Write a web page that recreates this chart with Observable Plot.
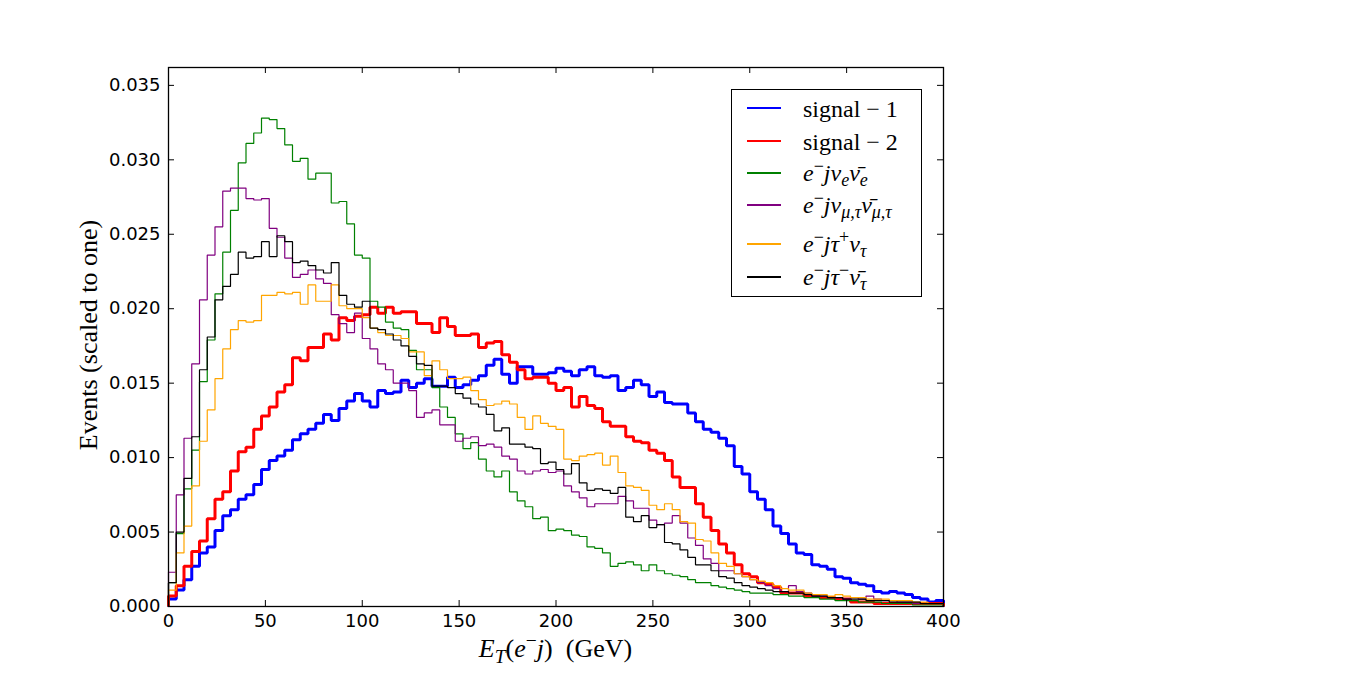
<!DOCTYPE html>
<html>
<head>
<meta charset="utf-8">
<script src="https://cdn.jsdelivr.net/npm/d3@7"></script>
<script src="https://cdn.jsdelivr.net/npm/@observablehq/plot@0.6"></script>
<style>
  html, body { margin: 0; padding: 0; background: #fff; }
  #wrap { position: relative; width: 1349px; height: 674px; background: #fff; overflow: hidden; }
  #wrap svg { position: absolute; left: 0; top: 0; }
  .serif { font-family: "Liberation Serif", "DejaVu Serif", serif; color: #000; }
  .serif sub, .serif sup { font-size: 75%; line-height: 0; position: relative; vertical-align: baseline; }
  .serif sup { top: -0.5em; }
  .serif sub { top: 0.3em; }
  #xlabel { position: absolute; left: 168px; width: 775px; top: 636px; text-align: center; font-size: 26px; line-height: 26px; white-space: nowrap; }
  #ylabel { position: absolute; left: -111px; width: 400px; top: 322px; text-align: center; font-size: 26px; line-height: 26px; transform: rotate(-90deg); transform-origin: 200px 13px; white-space: nowrap; }
  #legend { position: absolute; left: 731px; top: 89px; width: 189px; height: 206px; border: 1.3px solid #000; background: #fff; }
  .lrow { position: absolute; left: 0; width: 189px; height: 0; }
  .lline { position: absolute; left: 15px; width: 34px; height: 0; border-top: 2px solid; }
  .ltext { position: absolute; left: 71px; font-size: 24px; line-height: 24px; white-space: nowrap; }
</style>
</head>
<body>
<div id="wrap">
  <div id="xlabel" class="serif"><i>E</i><sub><i>T</i></sub>(<i>e</i><sup>−</sup><i>j</i>)&nbsp;&nbsp;(GeV)</div>
  <div id="ylabel" class="serif">Events (scaled to one)</div>
  <div id="legend" class="serif"></div>
</div>
<script>
// ---- data ----
const binWidth = 4; // GeV
const xTicks = [0, 50, 100, 150, 200, 250, 300, 350, 400];
const yTicks = [0, 0.005, 0.010, 0.015, 0.020, 0.025, 0.030, 0.035];

const signal1 = [
  0.0005, 0.0011, 0.0018, 0.0027, 0.0036, 0.0040, 0.0051, 0.0061, 0.0065, 0.0072,
  0.0075, 0.0082, 0.0092, 0.0098, 0.0101, 0.0105, 0.0112, 0.0116, 0.0119, 0.0123,
  0.0129, 0.0125, 0.0133, 0.0138, 0.0143, 0.0138, 0.0134, 0.0145, 0.0143, 0.0144,
  0.0152, 0.0147, 0.0150, 0.0153, 0.0148, 0.0148, 0.0154, 0.0147, 0.0149, 0.0152,
  0.0155, 0.0162, 0.0166, 0.0156, 0.0150, 0.0161, 0.0161, 0.0156, 0.0156, 0.0157,
  0.0160, 0.0158, 0.0155, 0.0159, 0.0161, 0.0155, 0.0154, 0.0155, 0.0145, 0.0147,
  0.0152, 0.0149, 0.0141, 0.0144, 0.0137, 0.0136, 0.0136, 0.0130, 0.0124, 0.0119,
  0.0117, 0.0113, 0.0108, 0.0094, 0.0089, 0.0077, 0.0072, 0.0065, 0.0054, 0.0049,
  0.0042, 0.0036, 0.0035, 0.0028, 0.0027, 0.0025, 0.0020, 0.0019, 0.0016, 0.0015,
  0.0014, 0.0010, 0.0009, 0.0010, 0.0009, 0.0008, 0.0006, 0.0005, 0.0003, 0.0004
];
const signal2 = [
  0.0007, 0.0014, 0.0027, 0.0037, 0.0044, 0.0059, 0.0072, 0.0077, 0.0091, 0.0104,
  0.0107, 0.0119, 0.0128, 0.0134, 0.0144, 0.0149, 0.0167, 0.0165, 0.0174, 0.0174,
  0.0183, 0.0179, 0.0194, 0.0192, 0.0195, 0.0196, 0.0201, 0.0197, 0.0201, 0.0197,
  0.0198, 0.0198, 0.0190, 0.0190, 0.0184, 0.0194, 0.0188, 0.0182, 0.0182, 0.0183,
  0.0174, 0.0177, 0.0178, 0.0169, 0.0164, 0.0159, 0.0153, 0.0154, 0.0154, 0.0150,
  0.0145, 0.0147, 0.0134, 0.0141, 0.0135, 0.0133, 0.0124, 0.0121, 0.0121, 0.0114,
  0.0111, 0.0110, 0.0105, 0.0103, 0.0098, 0.0087, 0.0080, 0.0080, 0.0069, 0.0060,
  0.0051, 0.0042, 0.0036, 0.0028, 0.0022, 0.0020, 0.0016, 0.0015, 0.0013, 0.0009,
  0.0009, 0.0009, 0.0007, 0.0007, 0.0006, 0.0006, 0.0005, 0.0005, 0.0003, 0.0003,
  0.0003, 0.0002, 0.0002, 0.0002, 0.0002, 0.0002, 0.0002, 0.0002, 0.0002, 0.0002
];
const bgNuE = [
  0.0016, 0.0049, 0.0079, 0.0105, 0.0151, 0.0179, 0.0210, 0.0238, 0.0266, 0.0298,
  0.0311, 0.0318, 0.0328, 0.0327, 0.0321, 0.0310, 0.0299, 0.0301, 0.0287, 0.0291,
  0.0291, 0.0271, 0.0272, 0.0257, 0.0236, 0.0234, 0.0205, 0.0201, 0.0191, 0.0187,
  0.0186, 0.0172, 0.0159, 0.0159, 0.0147, 0.0134, 0.0127, 0.0116, 0.0106, 0.0110,
  0.0099, 0.0091, 0.0087, 0.0091, 0.0077, 0.0071, 0.0067, 0.0059, 0.0060, 0.0051,
  0.0052, 0.0051, 0.0048, 0.0047, 0.0040, 0.0039, 0.0036, 0.0027, 0.0029, 0.0030,
  0.0028, 0.0024, 0.0028, 0.0024, 0.0022, 0.0021, 0.0020, 0.0018, 0.0016, 0.0016,
  0.0014, 0.0013, 0.0012, 0.0011, 0.0010, 0.0009, 0.0009, 0.0009, 0.0008, 0.0008,
  0.0007, 0.0007, 0.0006, 0.0006, 0.0005, 0.0005, 0.0004, 0.0004, 0.0004, 0.0003,
  0.0003, 0.0003, 0.0002, 0.0002, 0.0002, 0.0002, 0.0001, 0.0001, 0.0001, 0.0001
];
const bgNuMuTau = [
  0.0023, 0.0075, 0.0113, 0.0163, 0.0206, 0.0236, 0.0255, 0.0279, 0.0281, 0.0281,
  0.0274, 0.0273, 0.0274, 0.0254, 0.0248, 0.0234, 0.0221, 0.0223, 0.0226, 0.0220,
  0.0217, 0.0196, 0.0190, 0.0184, 0.0197, 0.0180, 0.0173, 0.0163, 0.0159, 0.0150,
  0.0150, 0.0145, 0.0127, 0.0130, 0.0132, 0.0122, 0.0122, 0.0111, 0.0113, 0.0114,
  0.0108, 0.0109, 0.0107, 0.0101, 0.0099, 0.0091, 0.0089, 0.0091, 0.0092, 0.0090,
  0.0091, 0.0081, 0.0077, 0.0073, 0.0067, 0.0069, 0.0069, 0.0069, 0.0074, 0.0071,
  0.0066, 0.0066, 0.0058, 0.0055, 0.0056, 0.0061, 0.0056, 0.0046, 0.0041, 0.0032,
  0.0029, 0.0024, 0.0024, 0.0022, 0.0020, 0.0018, 0.0016, 0.0014, 0.0012, 0.0010,
  0.0014, 0.0010, 0.0009, 0.0007, 0.0007, 0.0006, 0.0006, 0.0005, 0.0006, 0.0005,
  0.0007, 0.0005, 0.0004, 0.0004, 0.0003, 0.0003, 0.0002, 0.0002, 0.0002, 0.0002
];
const bgTauPlus = [
  0.0011, 0.0036, 0.0054, 0.0081, 0.0111, 0.0132, 0.0153, 0.0173, 0.0186, 0.0192,
  0.0191, 0.0192, 0.0209, 0.0209, 0.0211, 0.0210, 0.0211, 0.0203, 0.0216, 0.0205,
  0.0205, 0.0216, 0.0202, 0.0200, 0.0200, 0.0194, 0.0187, 0.0184, 0.0182, 0.0182,
  0.0180, 0.0171, 0.0171, 0.0155, 0.0165, 0.0159, 0.0153, 0.0153, 0.0154, 0.0145,
  0.0139, 0.0135, 0.0136, 0.0138, 0.0136, 0.0127, 0.0119, 0.0128, 0.0123, 0.0121,
  0.0119, 0.0099, 0.0098, 0.0101, 0.0102, 0.0103, 0.0095, 0.0101, 0.0090, 0.0081,
  0.0080, 0.0078, 0.0068, 0.0065, 0.0069, 0.0065, 0.0057, 0.0056, 0.0045, 0.0044,
  0.0036, 0.0029, 0.0027, 0.0022, 0.0020, 0.0018, 0.0017, 0.0016, 0.0014, 0.0012,
  0.0011, 0.0011, 0.0009, 0.0008, 0.0008, 0.0007, 0.0008, 0.0007, 0.0006, 0.0006,
  0.0005, 0.0005, 0.0005, 0.0004, 0.0004, 0.0004, 0.0003, 0.0003, 0.0002, 0.0002
];
const bgTauMinus = [
  0.0016, 0.0050, 0.0086, 0.0114, 0.0159, 0.0181, 0.0206, 0.0215, 0.0223, 0.0238,
  0.0234, 0.0235, 0.0245, 0.0235, 0.0249, 0.0245, 0.0231, 0.0232, 0.0229, 0.0226,
  0.0224, 0.0231, 0.0209, 0.0203, 0.0201, 0.0205, 0.0187, 0.0186, 0.0183, 0.0179,
  0.0175, 0.0168, 0.0163, 0.0162, 0.0148, 0.0148, 0.0147, 0.0143, 0.0140, 0.0136,
  0.0134, 0.0129, 0.0118, 0.0120, 0.0109, 0.0109, 0.0107, 0.0106, 0.0096, 0.0097,
  0.0092, 0.0089, 0.0096, 0.0083, 0.0078, 0.0079, 0.0078, 0.0076, 0.0080, 0.0060,
  0.0057, 0.0061, 0.0053, 0.0055, 0.0043, 0.0042, 0.0038, 0.0033, 0.0028, 0.0028,
  0.0024, 0.0020, 0.0019, 0.0016, 0.0014, 0.0013, 0.0012, 0.0011, 0.0010, 0.0010,
  0.0009, 0.0009, 0.0008, 0.0007, 0.0007, 0.0006, 0.0006, 0.0005, 0.0005, 0.0005,
  0.0004, 0.0004, 0.0004, 0.0003, 0.0003, 0.0003, 0.0003, 0.0002, 0.0002, 0.0002
];

const seriesValues = [signal1, signal2, bgNuE, bgNuMuTau, bgTauPlus, bgTauMinus];
const seriesLabels = [
  "signal − 1",
  "signal − 2",
  "<i>e</i><sup>−</sup><i>jν</i><sub><i>e</i></sub><i>ν̄</i><sub><i>e</i></sub>",
  "<i>e</i><sup>−</sup><i>jν</i><sub><i>μ,τ</i></sub><i>ν̄</i><sub><i>μ,τ</i></sub>",
  "<i>e</i><sup>−</sup><i>jτ</i><sup>+</sup><i>ν</i><sub><i>τ</i></sub>",
  "<i>e</i><sup>−</sup><i>jτ</i><sup>−</sup><i>ν̄</i><sub><i>τ</i></sub>"
];
// ---- styles ----
const seriesColors = ["#0000ff", "#ff0000", "#008000", "#800080", "#ffa500", "#000000"];
const seriesWidths = [3, 3, 1.2, 1.2, 1.2, 1.2];
const legendLineY = [18, 51, 83, 115, 154, 187];

// ---- build step outlines ----
function stepPoints(vals) {
  const pts = [{x: 0, y: 0}];
  vals.forEach((v, i) => pts.push({x: i * binWidth, y: v}));
  const end = vals.length * binWidth;
  pts.push({x: end, y: vals[vals.length - 1]});
  pts.push({x: end, y: 0});
  return pts;
}

const W = 1349, H = 674;
const mL = 168, mR = 406, mT = 67, mB = 68;
const frameW = W - mL - mR, frameH = H - mT - mB;
const tickLen = 6;

const lineMarks = seriesValues.map((vals, i) =>
  Plot.line(stepPoints(vals), {
    x: "x", y: "y", curve: "step-after",
    stroke: seriesColors[i], strokeWidth: seriesWidths[i],
    strokeLinejoin: "miter", strokeLinecap: "butt"
  })
);

const chart = Plot.plot({
  width: W, height: H,
  marginLeft: mL, marginRight: mR, marginTop: mT, marginBottom: mB,
  x: {domain: [0, 400], label: null},
  y: {domain: [0, 0.0362], label: null},
  style: {fontFamily: "DejaVu Sans", fontSize: "18px", background: "transparent", color: "#000"},
  marks: [
    ...lineMarks,
    Plot.tickY(yTicks, {y: d => d, insetRight: frameW - tickLen, stroke: "#000", strokeWidth: 1}),
    Plot.tickY(yTicks, {y: d => d, insetLeft: frameW - tickLen, stroke: "#000", strokeWidth: 1}),
    Plot.tickX(xTicks, {x: d => d, insetTop: frameH - tickLen, stroke: "#000", strokeWidth: 1}),
    Plot.tickX(xTicks, {x: d => d, insetBottom: frameH - tickLen, stroke: "#000", strokeWidth: 1}),
    Plot.frame({stroke: "#000", strokeWidth: 1.3}),
    Plot.axisX({ticks: xTicks, tickSize: 0, tickPadding: 8, tickFormat: d3.format("d"), fontSize: 18, label: null}),
    Plot.axisY({ticks: yTicks, tickSize: 0, tickPadding: 8, tickFormat: d3.format(".3f"), fontSize: 18, label: null})
  ]
});

const wrap = document.getElementById("wrap");
wrap.insertBefore(chart, wrap.firstChild);

// ---- legend ----
const legend = document.getElementById("legend");
seriesLabels.forEach((lab, i) => {
  const row = document.createElement("div");
  row.className = "lrow";
  row.style.top = legendLineY[i] + "px";
  const ln = document.createElement("div");
  ln.className = "lline";
  ln.style.borderTopColor = seriesColors[i];
  ln.style.top = "-1px";
  const tx = document.createElement("div");
  tx.className = "ltext";
  tx.innerHTML = lab;
  tx.style.top = (i < 2 ? -11 : -12) + "px";
  row.appendChild(ln);
  row.appendChild(tx);
  legend.appendChild(row);
});
</script>
</body>
</html>
